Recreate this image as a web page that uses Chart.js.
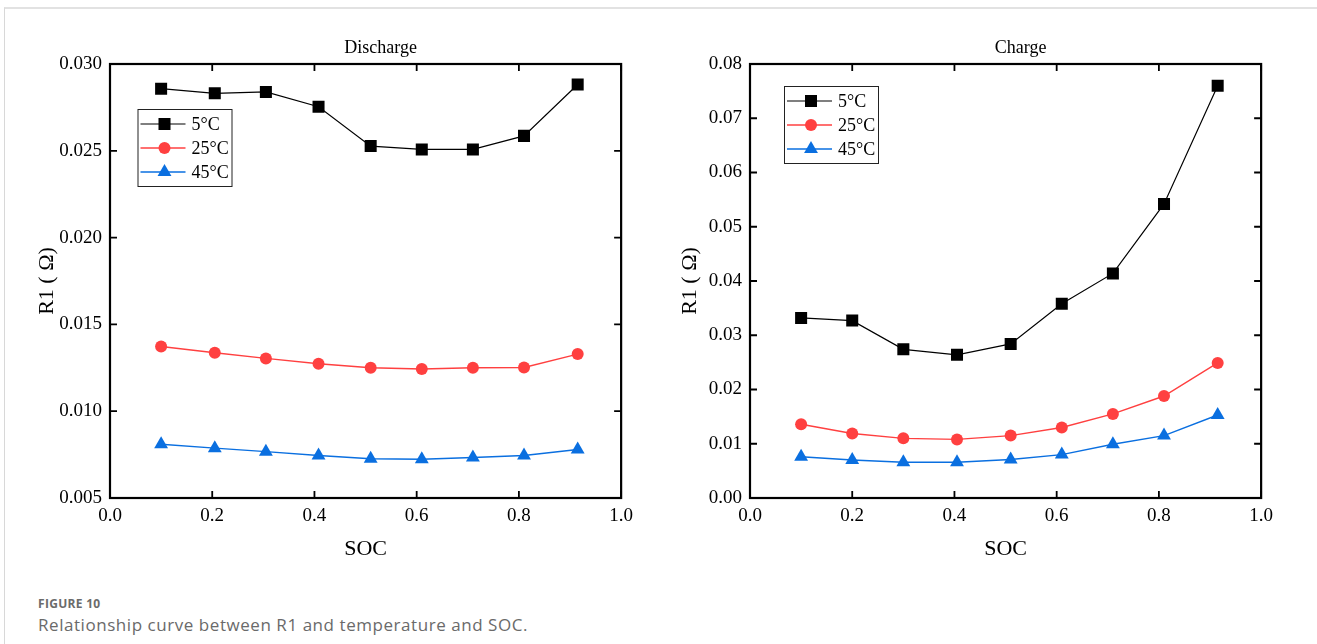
<!DOCTYPE html>
<html>
<head>
<meta charset="utf-8">
<script src="https://cdn.jsdelivr.net/npm/chart.js@4/dist/chart.umd.min.js"></script>
<style>
  body { margin: 0; background: #fff; width: 1317px; height: 644px; overflow: hidden; position: relative; }
  .frame { position: absolute; left: 4px; top: 7px; width: 1400px; height: 700px;
           border-top: 2px solid #e2e2e2; border-left: 1px solid #d8d8d8; }
  canvas { position: absolute; top: 0; }
  .fig-no { position: absolute; left: 38px; top: 595px; font: bold 12px "Open Sans", sans-serif; color: #6b6b6b; letter-spacing: 0.3px; }
  .fig-cap { position: absolute; left: 38px; top: 613px; font: 17px "Open Sans", sans-serif; color: #6a6a6a; letter-spacing: 0.55px; }
</style>
</head>
<body>
<div class="frame"></div>
<canvas id="dischargeChart" width="640" height="570" style="left:0px"></canvas>
<canvas id="chargeChart" width="640" height="570" style="left:640px"></canvas>
<div class="fig-no">FIGURE 10</div>
<div class="fig-cap">Relationship curve between R1 and temperature and SOC.</div>

<script>
// SOC sample points
const socDischarge = [0.10, 0.205, 0.305, 0.408, 0.51, 0.61, 0.71, 0.81, 0.915];
const socCharge = [0.10, 0.20, 0.30, 0.405, 0.51, 0.61, 0.71, 0.81, 0.915];

// R1 (Ohm) - discharge
const dis5 = [0.02858, 0.02831, 0.02839, 0.02754, 0.02527, 0.02508, 0.02508, 0.02586, 0.02882];
const dis25 = [0.01373, 0.01337, 0.01304, 0.01273, 0.0125, 0.01243, 0.0125, 0.01252, 0.01329];
const dis45 = [0.0081, 0.00787, 0.00767, 0.00745, 0.00726, 0.00723, 0.00733, 0.00745, 0.00779];

// R1 (Ohm) - charge
const chg5 = [0.0332, 0.0327, 0.0274, 0.0264, 0.0284, 0.0358, 0.0414, 0.0542, 0.0760];
const chg25 = [0.0136, 0.0119, 0.0110, 0.0108, 0.0115, 0.0130, 0.0155, 0.0188, 0.0249];
const chg45 = [0.0076, 0.0070, 0.0066, 0.0066, 0.0071, 0.0080, 0.0099, 0.0115, 0.0153];

// tick values
const socTicks = [0.0, 0.2, 0.4, 0.6, 0.8, 1.0];
const disTicks = [0.005, 0.010, 0.015, 0.020, 0.025, 0.030];
const chgTicks = [0.00, 0.01, 0.02, 0.03, 0.04, 0.05, 0.06, 0.07, 0.08];

const seriesNames = ["5°C", "25°C", "45°C"];
const SERIF = "'Liberation Serif', 'Times New Roman', serif";

const styles = [
  { color: "#000000", pointStyle: "rect", radius: 8.5, width: 1.2 },
  { color: "#ff4040", pointStyle: "circle", radius: 6, width: 1.4 },
  { color: "#0a6fe0", pointStyle: "triangle", radius: 8, width: 1.4 },
];

function drawMarker(ctx, style, x, y) {
  const r = style.radius;
  ctx.beginPath();
  if (style.pointStyle === "rect") {
    const s = Math.SQRT1_2 * r;
    ctx.rect(x - s, y - s, 2 * s, 2 * s);
  } else if (style.pointStyle === "circle") {
    ctx.arc(x, y, r, 0, Math.PI * 2);
  } else {
    ctx.moveTo(x, y - r);
    ctx.lineTo(x + Math.sin(Math.PI * 2 / 3) * r, y + r / 2);
    ctx.lineTo(x - Math.sin(Math.PI * 2 / 3) * r, y + r / 2);
    ctx.closePath();
  }
  ctx.fillStyle = style.color;
  ctx.fill();
}

// frame, inward ticks on four sides, boxed legend, panel title
const panelPlugin = {
  id: "panel",
  afterDraw(chart, args, opts) {
    const ctx = chart.ctx;
    const a = chart.chartArea;
    const xs = chart.scales.x, ys = chart.scales.y;
    ctx.save();

    ctx.strokeStyle = "#000";
    ctx.lineWidth = 1.8;
    ctx.beginPath();
    xs.ticks.forEach(t => {
      const px = xs.getPixelForValue(t.value);
      ctx.moveTo(px, a.bottom); ctx.lineTo(px, a.bottom - 7);
      ctx.moveTo(px, a.top); ctx.lineTo(px, a.top + 7);
    });
    ys.ticks.forEach(t => {
      const py = ys.getPixelForValue(t.value);
      ctx.moveTo(a.left, py); ctx.lineTo(a.left + 7, py);
      ctx.moveTo(a.right, py); ctx.lineTo(a.right - 7, py);
    });
    ctx.stroke();
    ctx.lineWidth = 2.2;
    ctx.strokeRect(a.left, a.top, a.right - a.left, a.bottom - a.top);

    // title
    ctx.fillStyle = "#000";
    ctx.font = "18px " + SERIF;
    ctx.textAlign = "center";
    ctx.textBaseline = "middle";
    ctx.fillText(opts.title, (a.left + a.right) / 2 + 15, 48);

    // legend
    const bx = a.left + opts.legendDx, by = a.top + opts.legendDy;
    ctx.lineWidth = 1;
    ctx.strokeStyle = "#222";
    ctx.strokeRect(bx + 0.5, by + 0.5, 94, 77);
    ctx.font = "18px " + SERIF;
    ctx.textAlign = "left";
    chart.data.datasets.forEach((ds, i) => {
      const st = styles[i];
      const ry = by + 15 + i * 24;
      ctx.strokeStyle = st.color;
      ctx.lineWidth = st.width;
      ctx.beginPath();
      ctx.moveTo(bx + 3, ry); ctx.lineTo(bx + 48, ry);
      ctx.stroke();
      drawMarker(ctx, st, bx + 27, ry);
      ctx.fillStyle = "#000";
      ctx.fillText(ds.label, bx + 54, ry + 1);
    });
    ctx.restore();
  }
};

function makeChart(id, soc, series, yTicks, yMin, yMax, decimals, panel) {
  const datasets = series.map((vals, i) => ({
    label: seriesNames[i],
    data: soc.map((x, j) => ({ x: x, y: vals[j] })),
    borderColor: styles[i].color,
    backgroundColor: styles[i].color,
    borderWidth: styles[i].width,
    pointStyle: styles[i].pointStyle,
    pointRadius: styles[i].radius,
    pointBorderWidth: 0,
    pointBackgroundColor: styles[i].color,
    tension: 0,
  }));

  return new Chart(document.getElementById(id), {
    type: "line",
    data: { datasets },
    options: {
      responsive: false,
      animation: false,
      layout: { padding: { top: 64, right: 18, bottom: 0, left: 0 } },
      plugins: {
        legend: { display: false },
        tooltip: { enabled: false },
        panel: panel,
      },
      scales: {
        x: {
          type: "linear",
          min: 0, max: 1,
          afterBuildTicks: s => { s.ticks = socTicks.map(v => ({ value: v })); },
          afterFit: s => { s.height = 72; },
          grid: { display: false, drawTicks: false },
          border: { display: false },
          ticks: {
            padding: 7,
            color: "#000",
            font: { family: SERIF, size: 19 },
            callback: v => Number(v).toFixed(1),
          },
          title: {
            display: true, text: "SOC", color: "#000",
            font: { family: SERIF, size: 22 },
            padding: { top: 0, bottom: 8 },
          },
        },
        y: {
          type: "linear",
          min: yMin, max: yMax,
          afterBuildTicks: s => { s.ticks = yTicks.map(v => ({ value: v })); },
          afterFit: s => { s.width = 110; },
          grid: { display: false, drawTicks: false },
          border: { display: false },
          ticks: {
            padding: 8,
            color: "#000",
            font: { family: SERIF, size: 19 },
            callback: v => Number(v).toFixed(decimals),
          },
          title: {
            display: true, text: "R1 ( Ω)", color: "#000",
            font: { family: SERIF, size: 22 },
            padding: { top: panel.yTitlePad, bottom: 0 },
          },
        },
      },
    },
    plugins: [panelPlugin],
  });
}

makeChart("dischargeChart", socDischarge, [dis5, dis25, dis45], disTicks, 0.005, 0.030, 3,
  { title: "Discharge", legendDx: 27.5, legendDy: 45, yTitlePad: 34 });
makeChart("chargeChart", socCharge, [chg5, chg25, chg45], chgTicks, 0.00, 0.08, 2,
  { title: "Charge", legendDx: 34, legendDy: 22, yTitlePad: 37 });
</script>
</body>
</html>
